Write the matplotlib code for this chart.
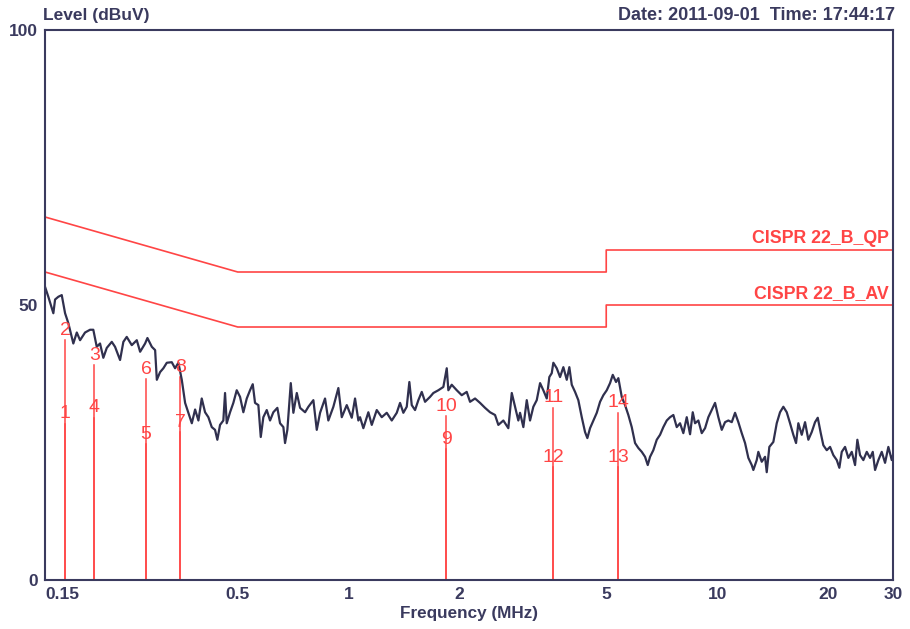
import numpy as np
import matplotlib
matplotlib.use('Agg')
import matplotlib.pyplot as plt

# ------ DATA ----------------------------------

freq = [0.150, 0.1531, 0.1580, 0.1597, 0.1630, 0.1665, 0.1700, 0.1735, 0.1790, 0.1829,
        0.1867, 0.1926, 0.1987, 0.2028, 0.2072, 0.2115, 0.2159, 0.2206, 0.2276, 0.2323,
        0.2397, 0.2447, 0.2499, 0.2579, 0.2661, 0.2717, 0.2803, 0.2844, 0.2923, 0.2984,
        0.3016, 0.3078, 0.3142, 0.3210, 0.3311, 0.3380, 0.3451, 0.3525, 0.3599, 0.3674,
        0.3753, 0.3831, 0.3911, 0.3993, 0.4077, 0.4162, 0.4251, 0.4339, 0.4402, 0.4477,
        0.4570, 0.4619, 0.4668, 0.4766, 0.4865, 0.4969, 0.5073, 0.5179, 0.5290, 0.5400,
        0.5492, 0.5571, 0.5688, 0.5774, 0.5868, 0.5994, 0.6119, 0.6246, 0.6405, 0.6513,
        0.6650, 0.6720, 0.6818, 0.6965, 0.7079, 0.7232, 0.7382, 0.7616, 0.7775, 0.8021,
        0.8193, 0.8364, 0.8628, 0.8808, 0.9089, 0.9377, 0.9578, 0.9882, 1.0196, 1.0407,
        1.0625, 1.0738, 1.0962, 1.1310, 1.1553, 1.1919, 1.2297, 1.2687, 1.3090, 1.3506,
        1.3787, 1.4074, 1.4376, 1.4612, 1.4832, 1.5141, 1.5458, 1.5789, 1.6118, 1.663,
        1.6976, 1.7514, 1.807, 1.8458, 1.8644, 1.904, 1.965, 2.027, 2.091, 2.135,
        2.203, 2.273, 2.345, 2.419, 2.496, 2.548, 2.629, 2.712, 2.771, 2.828,
        2.887, 2.918, 2.979, 3.043, 3.106, 3.171, 3.239, 3.307, 3.375, 3.448,
        3.504, 3.557, 3.593, 3.670, 3.747, 3.825, 3.907, 3.971, 4.031, 4.115,
        4.200, 4.291, 4.380, 4.444, 4.519, 4.614, 4.713, 4.811, 4.911, 5.016,
        5.121, 5.208, 5.316, 5.394, 5.509, 5.624, 5.741, 5.864, 5.987, 6.111,
        6.243, 6.373, 6.481, 6.575, 6.711, 6.856, 6.999, 7.144, 7.298, 7.450,
        7.605, 7.768, 7.930, 8.095, 8.269, 8.442, 8.585, 8.709, 8.891, 9.082,
        9.271, 9.464, 9.668, 9.869, 10.074, 10.291, 10.505, 10.724, 10.955, 11.183,
        11.415, 11.660, 11.904, 12.152, 12.412, 12.537, 12.805, 12.934, 13.212, 13.488,
        13.631, 13.855, 14.206, 14.510, 14.812, 15.122, 15.446, 15.768, 16.097, 16.371,
        16.608, 16.964, 17.318, 17.679, 18.057, 18.434, 18.749, 19.104, 19.416, 19.834,
        20.247, 20.669, 21.114, 21.459, 21.783, 22.236, 22.700, 23.187, 23.670, 24.013,
        24.420, 24.929, 25.465, 25.995, 26.439, 26.822, 27.381, 27.968, 28.550, 29.146,
        29.772, 30.0]
level = [53.3, 51.5, 48.5, 51.0, 51.5, 51.8, 48.5, 46.7, 43.0, 45.0,
         43.6, 45.0, 45.5, 45.5, 42.4, 43.0, 40.4, 42.2, 43.3, 42.4,
         40.0, 43.3, 44.2, 42.7, 43.6, 41.5, 43.0, 44.0, 42.4, 41.8,
         36.4, 37.8, 38.5, 39.5, 39.6, 38.5, 39.5, 36.4, 32.2, 30.4,
         28.5, 31.0, 29.0, 33.0, 30.5, 29.6, 27.8, 27.3, 25.5, 28.2,
         29.0, 34.0, 28.5, 30.5, 32.2, 34.5, 33.3, 30.5, 33.0, 34.5,
         35.6, 32.2, 31.8, 26.0, 29.6, 30.9, 29.0, 30.5, 31.3, 28.5,
         27.8, 24.9, 27.3, 35.8, 30.4, 34.0, 31.3, 30.5, 31.5, 32.7,
         27.3, 30.4, 33.0, 29.0, 31.5, 34.9, 29.6, 31.8, 29.5, 33.0,
         29.0, 29.6, 27.6, 30.5, 28.2, 30.9, 29.6, 30.4, 29.0, 30.4,
         32.2, 30.4, 31.5, 36.0, 31.8, 30.9, 32.7, 34.2, 32.4, 33.3,
         34.0, 34.5, 35.1, 38.5, 34.5, 35.5, 34.5, 33.6, 34.2, 32.4,
         33.0, 32.2, 31.3, 30.5, 30.0, 28.2, 29.0, 27.6, 34.0, 31.5,
         29.0, 30.4, 27.8, 32.7, 29.0, 31.5, 32.7, 35.8, 34.5, 33.0,
         36.9, 37.6, 39.5, 38.5, 36.9, 38.7, 36.4, 38.7, 35.5, 34.2,
         32.7, 29.6, 26.9, 25.8, 27.6, 29.0, 30.4, 32.4, 33.6, 34.5,
         35.8, 37.3, 36.0, 36.7, 33.3, 31.8, 30.0, 27.8, 24.9, 24.0,
         23.3, 22.4, 20.9, 22.4, 23.6, 25.5, 26.4, 27.8, 29.0, 29.6,
         30.0, 27.8, 28.5, 26.7, 29.6, 26.5, 30.5, 28.5, 29.0, 26.7,
         27.6, 29.6, 30.9, 32.2, 29.6, 27.3, 28.7, 29.0, 28.7, 30.4,
         28.7, 26.7, 24.9, 22.2, 20.9, 20.0, 21.8, 23.3, 21.5, 22.4,
         19.6, 24.2, 25.1, 28.5, 30.5, 31.5, 30.5, 28.5, 26.4, 24.9,
         28.5, 26.4, 28.7, 25.5, 26.9, 28.7, 29.5, 26.7, 24.5, 23.6,
         24.2, 22.7, 21.8, 20.4, 23.3, 24.2, 22.2, 23.3, 20.9, 25.5,
         22.7, 21.8, 23.3, 22.2, 23.3, 20.0, 21.8, 23.3, 21.3, 24.2,
         21.8, 22.7]

# CISPR 22 class B limit lines
limit_freq = [0.15, 0.5, 5.0, 5.0, 30.0]
limit_qp = [66, 56, 56, 60, 60]
limit_av = [56, 46, 46, 50, 50]

# markers: number, frequency (MHz), level (dBuV)
marker_no = [1, 2, 3, 4, 5, 6, 7, 8, 9, 10, 11, 12, 13, 14]
marker_freq = [0.170, 0.170, 0.204, 0.204, 0.282, 0.282, 0.349, 0.349,
               1.84, 1.84, 3.59, 3.59, 5.38, 5.38]
marker_level = [28.4, 43.6, 39.1, 29.5, 24.7, 36.5, 26.9, 36.9,
                23.8, 29.8, 31.3, 20.5, 20.5, 30.4]

xticks = [0.15, 0.5, 1, 2, 5, 10, 20, 30]
xtick_labels = ['0.15', '0.5', '1', '2', '5', '10', '20', '30']
yticks = [0, 50, 100]

# ----------------------------------------------

NAVY = '#3a3a5e'
RED = '#ff4545'
TRACE = '#30304e'

plt.rcParams['font.family'] = ['Liberation Sans', 'DejaVu Sans']

fig = plt.figure(figsize=(9.1, 6.29), dpi=100)
ax = fig.add_axes([0.0495, 0.0779, 0.9318, 0.8744])

# limits
ax.plot(limit_freq, limit_qp, color=RED, lw=1.2)
ax.plot(limit_freq, limit_av, color=RED, lw=1.2)
ax.text(29.3, 60.6, 'CISPR 22_B_QP', color=RED, fontsize=12.8, fontweight='bold',
        ha='right', va='bottom')
ax.text(29.3, 50.6, 'CISPR 22_B_AV', color=RED, fontsize=12.8, fontweight='bold',
        ha='right', va='bottom')

# markers
for n, f, lv in zip(marker_no, marker_freq, marker_level):
    ax.plot([f, f], [0, lv], color=RED, lw=1.1)
    ax.annotate(str(n), (f, lv), xytext=(0, 1), textcoords='offset points',
                color=RED, fontsize=14, ha='center', va='bottom')

# trace
ax.plot(freq, level, color=TRACE, lw=1.6)

ax.set_xscale('log')
ax.set_xlim(0.15, 30)
ax.set_ylim(0, 100)
ax.set_xticks(xticks)
ax.set_xticklabels(xtick_labels)
ax.minorticks_off()
ax.set_yticks(yticks)
ax.tick_params(length=0, colors=NAVY, labelsize=12.5, pad=5)
for lab in ax.get_xticklabels() + ax.get_yticklabels():
    lab.set_fontweight('bold')
ax.get_xticklabels()[0].set_ha('left')

for sp in ax.spines.values():
    sp.set_color(NAVY)
    sp.set_linewidth(1.5)

ax.set_xlabel('Frequency (MHz)', color=NAVY, fontsize=12.3, fontweight='bold', labelpad=3)

fig.text(0.047, 0.975, 'Level (dBuV)', color=NAVY, fontsize=12.5, fontweight='bold',
         ha='left', va='center')
fig.text(0.983, 0.975, 'Date: 2011-09-01  Time: 17:44:17', color=NAVY, fontsize=13,
         fontweight='bold', ha='right', va='center')

plt.savefig('out.png', dpi=100)
